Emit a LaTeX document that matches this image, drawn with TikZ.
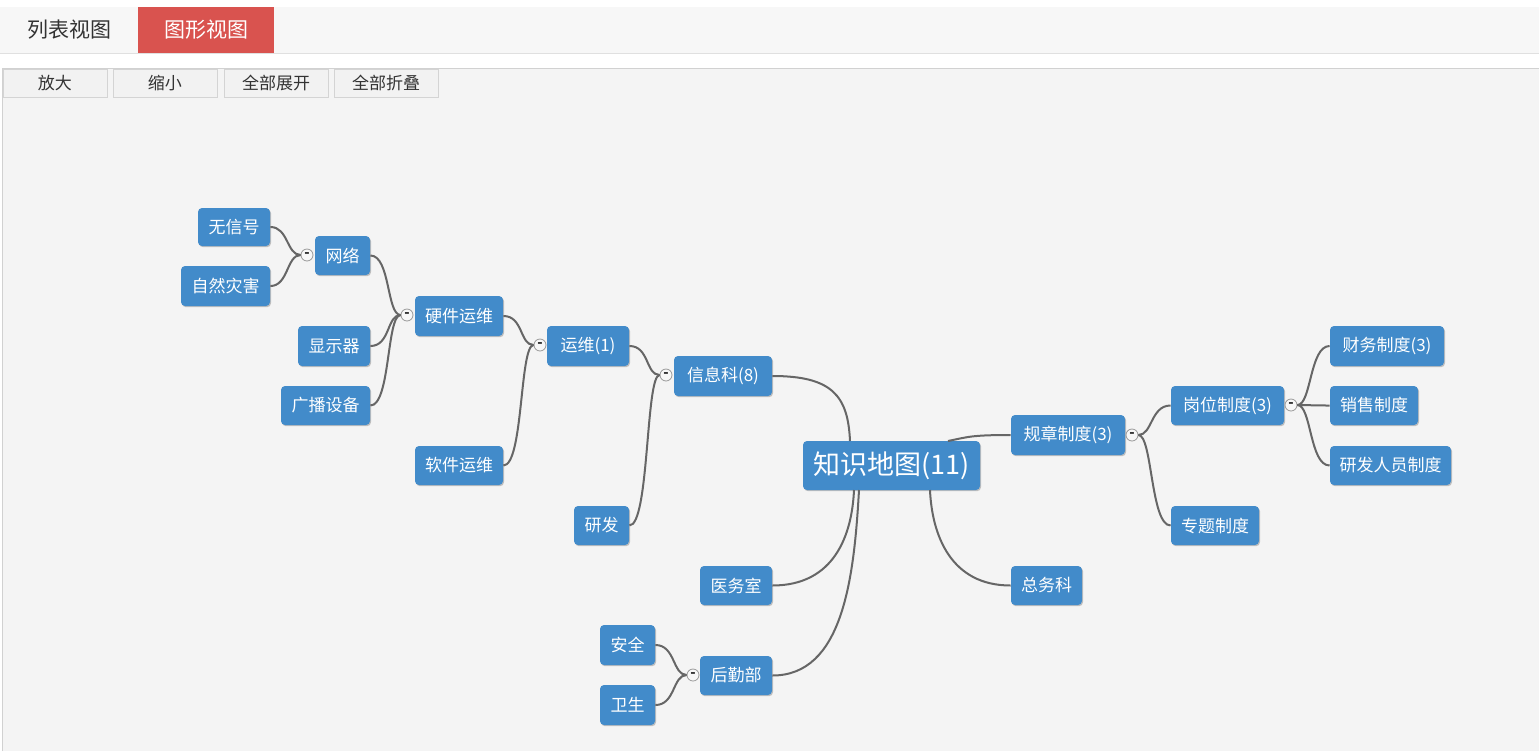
\documentclass[tikz,border=0pt]{standalone}
\usepackage{fontspec}
\newfontfamily\cjk{Noto Sans CJK SC}
\usetikzlibrary{shadows,backgrounds}
\definecolor{nodeblue}{HTML}{428BCA}
\definecolor{linegray}{HTML}{666666}
\definecolor{canvas}{HTML}{F4F4F4}
\definecolor{topband}{HTML}{F7F7F7}
\definecolor{tabred}{HTML}{D9534F}
\definecolor{btnfill}{HTML}{F2F2F2}
\definecolor{btnline}{HTML}{D4D4D4}
\definecolor{darktext}{HTML}{333333}
\tikzset{
  box/.style={fill=nodeblue, rounded corners=2pt, text=white, inner sep=0pt,
    font=\cjk\fontsize{8.5}{10}\selectfont,
    drop shadow={shadow xshift=0.5pt, shadow yshift=-0.6pt, fill=black, opacity=0.22}},
  rootbox/.style={box, font=\cjk\fontsize{13.5}{15}\selectfont},
  toggle/.style={circle, draw=black!40, fill=white!97!black, line width=0.4pt,
    minimum size=6pt, inner sep=0pt, font=\cjk\bfseries\fontsize{7}{7}\selectfont, text=black!85},
  link/.style={draw=linegray, line width=1pt},
  btn/.style={draw=btnline, fill=btnfill, line width=0.5pt, inner sep=0pt,
    minimum width=52pt, minimum height=14pt, text=darktext, font=\cjk\fontsize{8.5}{10}\selectfont},
  tab/.style={inner sep=0pt, minimum width=68pt, minimum height=23pt, font=\cjk\fontsize{10.5}{12}\selectfont}
}
\begin{document}
\begin{tikzpicture}[x=0.5pt, y=-0.5pt]
\useasboundingbox (0,0) rectangle (1539,751);
% backgrounds
\fill[white] (0,0) rectangle (1539,751);
\fill[topband] (0,7) rectangle (1539,53);
\draw[black!12, line width=0.5pt] (0,53) -- (1539,53);
\fill[canvas] (2,68) rectangle (1539,751);
\draw[black!18, line width=0.5pt] (2,751) -- (2,68) -- (1539,68);
% tabs
\node[tab, text=darktext] (tablist) at (69,30) {列表视图};
\node[tab, fill=tabred, text=white, minimum width=68pt] (tabgraph) at (206,30) {图形视图};
% buttons
\node[btn] (bzoomin) at (55,83) {放大};
\node[btn] (bzoomout) at (165,83) {缩小};
\node[btn] (bexpand) at (276,83) {全部展开};
\node[btn] (bcollapse) at (386,83) {全部折叠};

% nodes
\node[box, minimum width=36pt, minimum height=19pt] (wxh) at (234,227) {无信号};
\node[box, minimum width=44.5pt, minimum height=20pt] (zrzh) at (225.5,286) {自然灾害};
\node[box, minimum width=27.5pt, minimum height=19.5pt] (wl) at (342.5,255.5) {网络};
\node[box, minimum width=36pt, minimum height=20pt] (xsq) at (334,346) {显示器};
\node[box, minimum width=44.5pt, minimum height=19.5pt] (gbsb) at (325.5,405.5) {广播设备};
\node[box, minimum width=44pt, minimum height=20pt] (yjyw) at (459,316) {硬件运维};
\node[box, minimum width=44pt, minimum height=19.5pt] (rjyw) at (459,465.5) {软件运维};
\node[box, minimum width=41pt, minimum height=20pt] (yw) at (588,346) {运维(1)};
\node[box, minimum width=49pt, minimum height=20pt] (xxk) at (723,376) {信息科(8)};
\node[box, minimum width=27.5pt, minimum height=19.5pt] (yf) at (601.5,525.5) {研发};
\node[rootbox, minimum width=88.5pt, minimum height=24.5pt] (root) at (891.5,465.5) {知识地图(11)};
\node[box, minimum width=57pt, minimum height=20pt] (gzzd) at (1068,435) {规章制度(3)};
\node[box, minimum width=56.5pt, minimum height=19.5pt] (gwzd) at (1227.5,405.5) {岗位制度(3)};
\node[box, minimum width=57pt, minimum height=20pt] (cwzd) at (1387,346) {财务制度(3)};
\node[box, minimum width=44pt, minimum height=19.5pt] (xszd) at (1374,405.5) {销售制度};
\node[box, minimum width=60.5pt, minimum height=19.5pt] (yfry) at (1390.5,465.5) {研发人员制度};
\node[box, minimum width=44pt, minimum height=19.5pt] (ztzd) at (1215,525.5) {专题制度};
\node[box, minimum width=35.5pt, minimum height=19.5pt] (zwk) at (1046.5,585.5) {总务科};
\node[box, minimum width=36pt, minimum height=19.5pt] (ywsh) at (736,585.5) {医务室};
\node[box, minimum width=36pt, minimum height=19.5pt] (hqb) at (736,675.5) {后勤部};
\node[box, minimum width=27.5pt, minimum height=20pt] (aq) at (627.5,645) {安全};
\node[box, minimum width=27.5pt, minimum height=20pt] (ws) at (627.5,705) {卫生};

% toggles
\node[toggle] (t1) at (307,255) {-};
\node[toggle] (t2) at (407,315) {-};
\node[toggle] (t3) at (540,345) {-};
\node[toggle] (t4) at (666,375) {-};
\node[toggle] (t5) at (1132,435) {-};
\node[toggle] (t6) at (1291,405) {-};
\node[toggle] (t7) at (693,675) {-};

% root attachment points
\coordinate (rtA) at (850,441);
\coordinate (rtB) at (948,441);
\coordinate (rbA) at (854,490);
\coordinate (rbB) at (859,490);
\coordinate (rbC) at (930,490);

% left subtree connectors
\path[link] (wxh.east) .. controls +(18,0) and +(-14,0) .. (t1.west);
\path[link] (zrzh.east) .. controls +(18,0) and +(-14,0) .. (t1.west);
\path[link] (wl.east) .. controls +(20,0) and +(-14,0) .. (t2.west);
\path[link] (xsq.east) .. controls +(20,0) and +(-14,0) .. (t2.west);
\path[link] (gbsb.east) .. controls +(20,0) and +(-14,0) .. (t2.west);
\path[link] (yjyw.east) .. controls +(20,0) and +(-14,0) .. (t3.west);
\path[link] (rjyw.east) .. controls +(20,0) and +(-14,0) .. (t3.west);
\path[link] (yw.east) .. controls +(20,0) and +(-14,0) .. (t4.west);
\path[link] (yf.east) .. controls +(20,0) and +(-14,0) .. (t4.west);
\path[link] (aq.east) .. controls +(20,0) and +(-14,0) .. (t7.west);
\path[link] (ws.east) .. controls +(20,0) and +(-14,0) .. (t7.west);
% right subtree connectors
\path[link] (t5.east) .. controls +(14,0) and +(-20,0) .. (gwzd.west);
\path[link] (t5.east) .. controls +(14,0) and +(-20,0) .. (ztzd.west);
\path[link] (t6.east) .. controls +(14,0) and +(-20,0) .. (cwzd.west);
\path[link] (t6.east) .. controls +(14,0) and +(-20,0) .. (xszd.west);
\path[link] (t6.east) .. controls +(14,0) and +(-20,0) .. (yfry.west);
% root connectors
\path[link] (xxk.east) .. controls +(60,0) and +(-2,-45) .. (rtA);
\path[link] (gzzd.west) .. controls +(-40,0) and +(20,-4) .. (rtB);
\path[link] (ywsh.east) .. controls +(62,0) and +(-2,45) .. (rbA);
\path[link] (hqb.east) .. controls +(70,0) and +(-5,90) .. (rbB);
\path[link] (zwk.west) .. controls +(-60,0) and +(2,45) .. (rbC);
\end{tikzpicture}
\end{document}
